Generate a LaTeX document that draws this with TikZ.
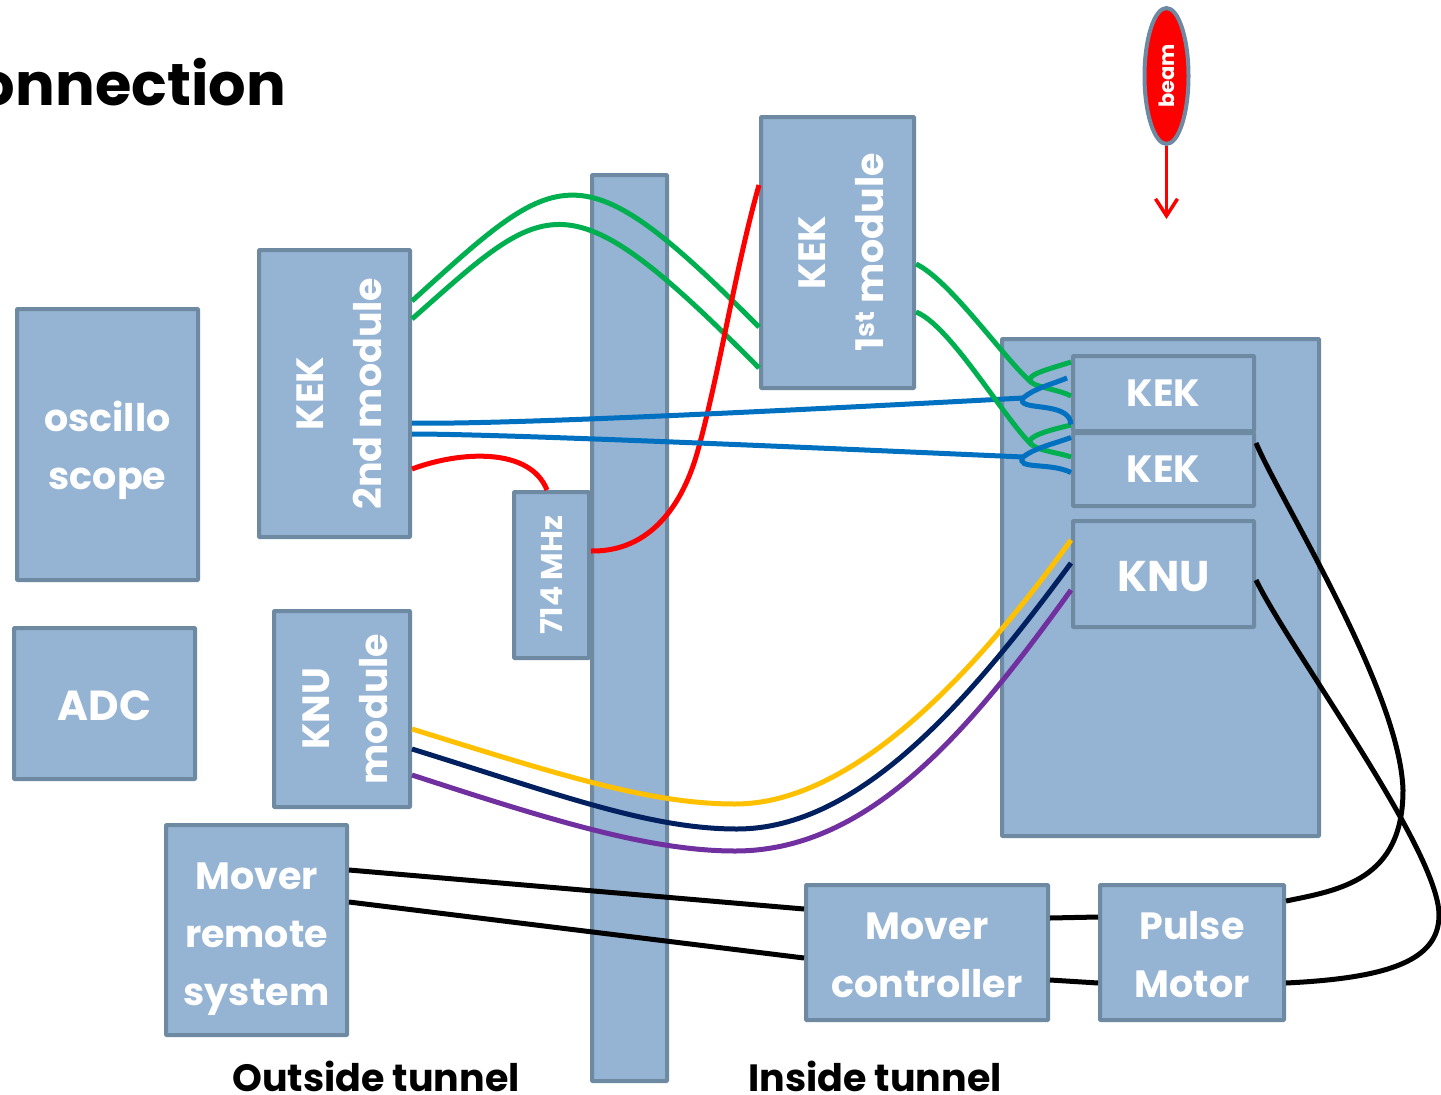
\documentclass[tikz,border=0pt]{standalone}
\usepackage{fontspec}
\setmainfont{Poppins}
\usepackage{tikz}
\usetikzlibrary{arrows.meta}
\usetikzlibrary{shapes.geometric}
\definecolor{boxfill}{HTML}{95B3D3}
\definecolor{boxline}{HTML}{6E8AA3}
\definecolor{wgreen}{HTML}{00B050}
\definecolor{wblue}{HTML}{0070C0}
\definecolor{wyellow}{HTML}{FFC000}
\definecolor{wnavy}{HTML}{002060}
\definecolor{wpurple}{HTML}{7030A0}
\newcommand{\lowline}[1]{\rule{0pt}{#1pt}}

\begin{document}
\begin{tikzpicture}[x=1pt, y=-1pt,
    box/.style={draw=boxline, line width=4pt, fill=boxfill, rounded corners=0.8pt, inner sep=0pt, text=white, align=center, font=\bfseries\fontsize{38}{58}\selectfont},
    wire/.style={line width=5pt},
    caption/.style={inner sep=0pt, font=\bfseries\fontsize{38}{40}\selectfont}]
    \useasboundingbox (0,0) rectangle (1441,1095);
    \node [inner sep=0pt, anchor=east, font=\bfseries\fontsize{59}{60}\selectfont] (title) at (286,82) {onnection};
    % tunnel wall and big holder go under the wires
    \node [box, minimum width=75pt, minimum height=906pt] (wall) at (629.5,628) {};
    \node [box, minimum width=317pt, minimum height=497pt] (holder) at (1160.5,587.5) {};
    \node [box, minimum width=181pt, minimum height=271pt] (oscillo) at (107.5,444.5) {\lowline{43}oscillo\\scope};
    \node [box, minimum width=181pt, minimum height=151pt, font=\bfseries\fontsize{42}{50}\selectfont] (adc) at (104.5,703.5) {\lowline{34}ADC};
    \node [box, minimum width=151pt, minimum height=287pt] (kektwo) at (334.5,393.5) {\rotatebox{90}{\begin{tabular}{@{}c@{}}\lowline{53}KEK\\[0pt]2nd module\end{tabular}}};
    \node [box, minimum width=136pt, minimum height=196pt] (knumod) at (342,709) {\rotatebox{90}{\begin{tabular}{@{}c@{}}\lowline{50}KNU\\[0pt]module\end{tabular}}};
    \node [box, minimum width=75pt, minimum height=166pt, font=\bfseries\fontsize{30}{30}\selectfont] (rf) at (551.5,575) {\rotatebox{90}{714 MHz}};
    \node [box, minimum width=181pt, minimum height=210pt] (remote) at (256.5,930) {\lowline{45}Mover\\remote\\system};
    \node [box, minimum width=153pt, minimum height=271pt] (kekone) at (837.5,252.5) {\rotatebox{90}{\begin{tabular}{@{}c@{}}\lowline{51}KEK\\[0pt]1\textsuperscript{st} module\end{tabular}}};
    \node [box, minimum width=181pt, minimum height=75pt] (keka) at (1163.5,393.5) {KEK};
    \node [box, minimum width=181pt, minimum height=73pt] (kekb) at (1163.5,469.5) {KEK};
    \node [box, minimum width=181pt, minimum height=106pt, font=\bfseries\fontsize{43}{50}\selectfont] (knu) at (1163.5,574) {\lowline{36}KNU};
    \node [box, minimum width=242pt, minimum height=135pt] (controller) at (927,952.5) {\lowline{33}Mover\\controller};
    \node [box, minimum width=184pt, minimum height=135pt] (pulse) at (1192,952.5) {\lowline{33}Pulse\\Motor};
    \node [caption] (outside) at (376,1076) {Outside tunnel};
    \node [caption] (inside) at (875,1076) {Inside tunnel};
    \node [draw=boxline, line width=4pt, fill=red, ellipse, minimum width=44pt, minimum height=136pt, inner sep=0pt, text=white, font=\bfseries\fontsize{21}{24}\selectfont] (beam) at (1166.5,76) {\rotatebox{90}{beam}};
    \draw [red, line width=3.5pt, -{Straight Barb[length=17pt,width=22pt]}] (beam.south) -- +(0,73);
    % fork points next to the two KEK boxes
    \coordinate (gforka) at (1032,383);
    \coordinate (gforkb) at (1032,445);
    \coordinate (bforka) at (1023,398);
    \coordinate (bforkb) at (1023,457);
    % module to module
    \draw [wire, wgreen] ([yshift=92.5pt]kektwo.east) .. controls (561,166) and (578,145) .. ([yshift=-74.5pt]kekone.west);
    \draw [wire, wgreen] ([yshift=74.5pt]kektwo.east) .. controls (549,198) and (565,172) .. ([yshift=-115.5pt]kekone.west);
    \draw [wire, red] ([yshift=-75.5pt]kektwo.east) .. controls (460,451) and (530,447) .. ([xshift=-4.5pt]rf.north);
    \draw [wire, red] ([yshift=24pt]rf.east) .. controls (650,552) and (683,505) .. (698,450) .. controls (720,370) and (735,270) .. ([yshift=67.5pt]kekone.west);
    \draw [wire, wblue] ([yshift=-29.5pt]kektwo.east) .. controls (500,425) and (800,410) .. (bforka);
    \draw [wire, wblue] ([yshift=-40.5pt]kektwo.east) .. controls (500,434) and (800,447) .. (bforkb);
    \draw [wire, wgreen] ([yshift=-11.5pt]kekone.east) .. controls (950,280) and (1005,360) .. (gforka);
    \draw [wire, wgreen] ([yshift=-59.5pt]kekone.east) .. controls (950,325) and (1005,420) .. (gforkb);
    % forks into the KEK boxes
    \draw [wire, wgreen] (gforka) .. controls (1022,375) and (1050,369) .. ([yshift=31.5pt]keka.west);
    \draw [wire, wgreen] (gforka) .. controls (1040,388) and (1060,390) .. ([yshift=-2.5pt]keka.west);
    \draw [wire, wgreen] (gforkb) .. controls (1022,437) and (1050,430) .. ([yshift=-31.5pt]keka.west);
    \draw [wire, wgreen] (gforkb) .. controls (1040,451) and (1060,453) .. ([yshift=12.5pt]kekb.west);
    \draw [wire, wblue] (bforka) .. controls (1035,388) and (1050,385) .. ([xshift=-4pt,yshift=15.5pt]keka.west);
    \draw [wire, wblue] (bforka) .. controls (1015,412) and (1070,400) .. ([yshift=-31pt]keka.west);
    \draw [wire, wblue] (bforkb) .. controls (1035,448) and (1050,445) .. ([yshift=32pt]kekb.west);
    \draw [wire, wblue] (bforkb) .. controls (1015,470) and (1050,462) .. ([yshift=-3pt]kekb.west);
    % KNU signals
    \draw [wire, wyellow] ([yshift=-20pt]knumod.east) .. controls (560,775) and (650,804) .. (735,804) .. controls (850,804) and (970,680) .. ([yshift=34pt]knu.west);
    \draw [wire, wnavy] ([yshift=-40pt]knumod.east) .. controls (560,795) and (650,829) .. (737,829) .. controls (860,829) and (970,700) .. ([yshift=11pt]knu.west);
    \draw [wire, wpurple] ([yshift=-66pt]knumod.east) .. controls (550,820) and (650,851) .. (735,851) .. controls (870,851) and (970,730) .. ([yshift=-16pt]knu.west);
    % mover cables
    \draw [wire, black] ([yshift=60pt]remote.east) -- ([yshift=43.5pt]controller.west);
    \draw [wire, black] ([yshift=28pt]remote.east) -- ([yshift=-5.5pt]controller.west);
    \draw [wire, black] ([yshift=34.5pt]controller.east) -- ([yshift=35.5pt]pulse.west);
    \draw [wire, black] ([yshift=-27.5pt]controller.east) -- ([yshift=-30.5pt]pulse.west);
    \draw [wire, black] ([yshift=51.5pt]pulse.east) .. controls (1340,890) and (1403,880) .. (1403,790) .. controls (1400,690) and (1280,500) .. ([yshift=26.5pt]kekb.east);
    \draw [wire, black] ([yshift=-30.5pt]pulse.east) .. controls (1390,978) and (1439,960) .. (1439,915) .. controls (1439,850) and (1290,650) .. ([yshift=-6pt]knu.east);
\end{tikzpicture}
\end{document}
